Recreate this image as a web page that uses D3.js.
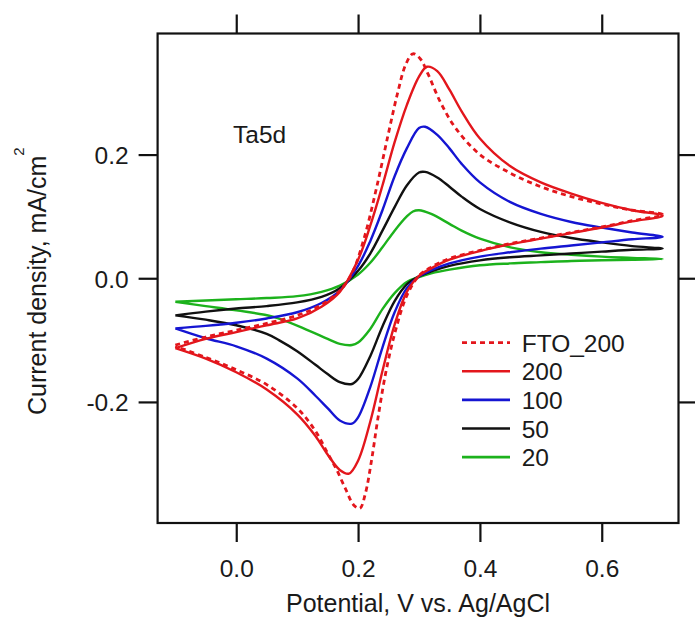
<!DOCTYPE html>
<html><head><meta charset="utf-8">
<script src="https://cdn.jsdelivr.net/npm/d3@7"></script>
<style>
html,body{margin:0;padding:0;background:#fff;}
svg text{font-family:"Liberation Sans",Arial,Helvetica,sans-serif;fill:#1a1a1a;}
</style></head><body>
<svg id="chart" width="695" height="617"></svg>
<script>
// ---- data: [potential V, current density mA/cm2], forward sweep then reverse ----
const fto200 = [[-0.1,-0.108],[-0.05,-0.095],[0,-0.084],[0.05,-0.073],[0.1,-0.06],[0.14,-0.043],[0.17,-0.02],[0.19,0.008],[0.21,0.065],[0.23,0.145],[0.25,0.235],[0.265,0.3],[0.278,0.345],[0.29,0.363],[0.302,0.355],[0.315,0.33],[0.335,0.285],[0.36,0.243],[0.4,0.2],[0.45,0.17],[0.5,0.148],[0.55,0.132],[0.6,0.12],[0.65,0.11],[0.7,0.103],
  [0.65,0.093],[0.6,0.083],[0.55,0.074],[0.5,0.065],[0.45,0.056],[0.4,0.045],[0.35,0.032],[0.32,0.018],[0.3,0.004],[0.28,-0.028],[0.26,-0.09],[0.245,-0.155],[0.232,-0.23],[0.222,-0.295],[0.212,-0.348],[0.203,-0.372],[0.193,-0.367],[0.18,-0.342],[0.165,-0.31],[0.15,-0.283],[0.13,-0.247],[0.1,-0.21],[0.05,-0.172],[0,-0.148],[-0.05,-0.128],[-0.1,-0.11]];
const cv200 = [[-0.1,-0.113],[-0.05,-0.098],[0,-0.087],[0.05,-0.076],[0.1,-0.065],[0.14,-0.046],[0.17,-0.022],[0.2,0.03],[0.22,0.085],[0.24,0.15],[0.26,0.22],[0.28,0.28],[0.3,0.326],[0.313,0.342],[0.33,0.335],[0.35,0.305],[0.37,0.27],[0.4,0.226],[0.45,0.181],[0.5,0.155],[0.55,0.137],[0.6,0.122],[0.65,0.11],[0.7,0.101],
  [0.65,0.092],[0.6,0.082],[0.55,0.073],[0.5,0.064],[0.45,0.055],[0.4,0.044],[0.35,0.03],[0.32,0.016],[0.3,0.004],[0.28,-0.022],[0.26,-0.075],[0.24,-0.15],[0.22,-0.232],[0.2,-0.295],[0.185,-0.316],[0.17,-0.31],[0.15,-0.285],[0.13,-0.255],[0.1,-0.22],[0.05,-0.18],[0,-0.152],[-0.05,-0.13],[-0.1,-0.113]];
const cv100 = [[-0.1,-0.081],[-0.05,-0.077],[0,-0.072],[0.05,-0.065],[0.1,-0.055],[0.14,-0.04],[0.17,-0.02],[0.2,0.02],[0.22,0.06],[0.24,0.11],[0.26,0.165],[0.28,0.21],[0.3,0.243],[0.31,0.245],[0.33,0.232],[0.35,0.21],[0.37,0.185],[0.4,0.155],[0.45,0.123],[0.5,0.104],[0.55,0.091],[0.6,0.082],[0.65,0.074],[0.7,0.067],
  [0.65,0.063],[0.6,0.058],[0.55,0.053],[0.5,0.048],[0.45,0.042],[0.4,0.035],[0.35,0.024],[0.32,0.013],[0.3,0.003],[0.28,-0.016],[0.26,-0.055],[0.24,-0.112],[0.22,-0.176],[0.2,-0.225],[0.19,-0.235],[0.17,-0.23],[0.15,-0.21],[0.13,-0.19],[0.1,-0.162],[0.05,-0.13],[0,-0.11],[-0.05,-0.097],[-0.1,-0.081]];
const cv50 = [[-0.1,-0.06],[-0.05,-0.054],[0,-0.049],[0.05,-0.045],[0.1,-0.039],[0.14,-0.03],[0.17,-0.016],[0.2,0.012],[0.22,0.04],[0.24,0.077],[0.26,0.115],[0.28,0.15],[0.3,0.171],[0.31,0.172],[0.33,0.163],[0.35,0.148],[0.37,0.132],[0.4,0.112],[0.45,0.09],[0.5,0.075],[0.55,0.065],[0.6,0.058],[0.65,0.052],[0.7,0.048],
  [0.65,0.046],[0.6,0.043],[0.55,0.04],[0.5,0.037],[0.45,0.034],[0.4,0.029],[0.35,0.02],[0.32,0.011],[0.3,0.003],[0.28,-0.01],[0.26,-0.037],[0.24,-0.078],[0.22,-0.126],[0.2,-0.163],[0.19,-0.171],[0.17,-0.168],[0.15,-0.155],[0.13,-0.14],[0.1,-0.118],[0.07,-0.1],[0.05,-0.09],[0,-0.076],[-0.05,-0.067],[-0.1,-0.06]];
const cv20 = [[-0.1,-0.038],[-0.05,-0.036],[0,-0.034],[0.05,-0.032],[0.1,-0.029],[0.14,-0.022],[0.17,-0.012],[0.2,0.006],[0.22,0.025],[0.24,0.05],[0.26,0.077],[0.28,0.1],[0.29,0.108],[0.3,0.11],[0.32,0.104],[0.35,0.088],[0.37,0.077],[0.4,0.064],[0.45,0.05],[0.5,0.042],[0.55,0.038],[0.6,0.035],[0.65,0.033],[0.7,0.031],
  [0.65,0.03],[0.6,0.029],[0.55,0.028],[0.5,0.026],[0.45,0.024],[0.4,0.021],[0.35,0.014],[0.32,0.008],[0.3,0.002],[0.28,-0.006],[0.26,-0.024],[0.24,-0.05],[0.22,-0.082],[0.2,-0.104],[0.19,-0.108],[0.17,-0.106],[0.15,-0.098],[0.12,-0.085],[0.06,-0.062],[0,-0.052],[-0.05,-0.045],[-0.1,-0.038]];

const seriesNames = ["FTO_200","200","100","50","20"];
const seriesData = [fto200, cv200, cv100, cv50, cv20];
const seriesColors = ["#e3161c","#e3161c","#1515d2","#111111","#1cb21c"];
const seriesDash = ["5,4", null, null, null, null];
const xTicks = [0.0, 0.2, 0.4, 0.6];
const yTicks = [-0.2, 0.0, 0.2];
const xTitle = "Potential, V vs. Ag/AgCl";
const yTitle = "Current density, mA/cm";
const sampleLabel = "Ta5d";

// ---- layout ----
const L = 157.6, R = 678.5, T = 33.5, B = 523;
const svg = d3.select("#chart");
const x = d3.scaleLinear().domain([-0.1291, 0.7260]).range([L, R]);
const y = d3.scaleLinear().domain([-0.3958, 0.3958]).range([B, T]);
const fmt = d => d.toFixed(1);
const tickLen = 19;

// curves (clipped)
svg.append("clipPath").attr("id","clip").append("rect")
  .attr("x",L).attr("y",T).attr("width",R-L).attr("height",B-T);
const line = d3.line().x(d=>x(d[0])).y(d=>y(d[1])).curve(d3.curveCatmullRom.alpha(0.5));
const g = svg.append("g").attr("clip-path","url(#clip)");
[4,3,2,0,1].forEach(i=>{
  g.append("path").attr("d", line(seriesData[i]))
    .attr("fill","none").attr("stroke",seriesColors[i])
    .attr("stroke-width", i===0 ? 2.8 : 2.4)
    .attr("stroke-dasharray", seriesDash[i])
    .attr("stroke-linejoin","round");
});

// axes
const axStyle = sel => { sel.select(".domain").remove();
  sel.selectAll(".tick line").attr("stroke","#111").attr("stroke-width",2.2); };
svg.append("g").attr("transform",`translate(0,${B})`)
  .call(d3.axisBottom(x).tickValues(xTicks).tickSize(tickLen).tickFormat(fmt))
  .call(axStyle)
  .call(s=>s.selectAll(".tick text").attr("y",53.5).attr("dy",0)
    .attr("font-size",24.5).attr("fill","#1a1a1a").attr("font-family",null));
svg.append("g").attr("transform",`translate(0,${T})`)
  .call(d3.axisTop(x).tickValues(xTicks).tickSize(tickLen).tickFormat(""))
  .call(axStyle);
svg.append("g").attr("transform",`translate(${L},0)`)
  .call(d3.axisLeft(y).tickValues(yTicks).tickSize(tickLen).tickPadding(10).tickFormat(fmt))
  .call(axStyle)
  .call(s=>s.selectAll(".tick text").attr("dy","0.36em")
    .attr("font-size",24.5).attr("fill","#1a1a1a").attr("font-family",null));
svg.append("g").attr("transform",`translate(${R},0)`)
  .call(d3.axisRight(y).tickValues(yTicks).tickSize(tickLen).tickFormat(""))
  .call(axStyle);

// frame
svg.append("rect").attr("x",L).attr("y",T).attr("width",R-L).attr("height",B-T)
  .attr("fill","none").attr("stroke","#111").attr("stroke-width",2.2);

// titles
svg.append("text").attr("x",(L+R)/2).attr("y",612).attr("text-anchor","middle")
  .attr("font-size",25).text(xTitle);
const yt = svg.append("text").attr("transform","translate(46,415) rotate(-90)")
  .attr("text-anchor","start").attr("font-size",25);
yt.append("tspan").text(yTitle);
yt.append("tspan").attr("dy",-22).attr("font-size",15).text("2");

svg.append("text").attr("x",233).attr("y",143).attr("font-size",24.5).text(sampleLabel);

// legend
const lg = svg.append("g");
seriesNames.forEach((n,i)=>{
  const by = 351.7 + i*28.6;
  lg.append("line").attr("x1",462).attr("x2",510).attr("y1",by-9).attr("y2",by-9)
    .attr("stroke",seriesColors[i]).attr("stroke-width",i===0?2.8:2.6)
    .attr("stroke-dasharray",seriesDash[i]);
  lg.append("text").attr("x",521.7).attr("y",by).attr("font-size",24.5).text(n);
});
</script>
</body></html>
